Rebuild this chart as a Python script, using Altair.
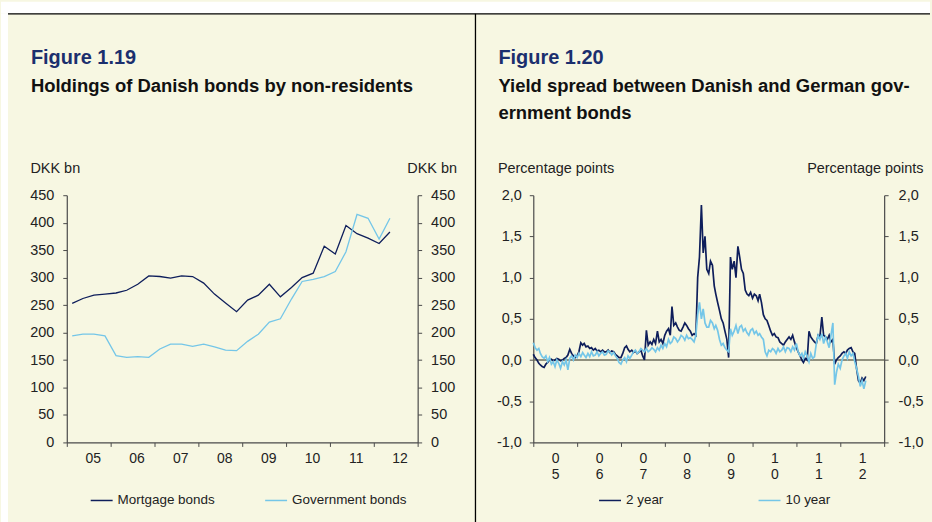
import altair as alt
import pandas as pd

FONT = "Liberation Sans"
BG = "#F7F7E2"
NAVY = "#0E1E5B"
LIGHT = "#74C6E8"
AXIS = "#4A4A4A"
TXT = "#222222"

# ---------------- Figure 1.19 data (quarterly, DKK bn) ----------------
quarters = ["2005Q1", "2005Q2", "2005Q3", "2005Q4", "2006Q1", "2006Q2", "2006Q3", "2006Q4",
            "2007Q1", "2007Q2", "2007Q3", "2007Q4", "2008Q1", "2008Q2", "2008Q3", "2008Q4",
            "2009Q1", "2009Q2", "2009Q3", "2009Q4", "2010Q1", "2010Q2", "2010Q3", "2010Q4",
            "2011Q1", "2011Q2", "2011Q3", "2011Q4", "2012Q1", "2012Q2"]
mortgage = [253, 262, 268, 270, 272, 277, 288, 303, 302, 299, 303, 302, 290, 270, 254, 238,
            259, 268, 288, 265, 282, 300, 308, 357, 343, 395, 380, 372, 362, 383]
government = [194, 197, 197, 194, 158, 155, 156, 155, 170, 179, 179, 175, 179, 174, 168, 167,
              184, 197, 219, 225, 261, 293, 297, 302, 311, 347, 415, 408, 370, 408]
left_series = ["Mortgage bonds", "Government bonds"]

# ---------------- Figure 1.20 data (semi-monthly readings, pct points) ----------------
spread_2y = [
    0.07, 0.03, 0.0, -0.04, -0.06, -0.08, -0.09, -0.05, -0.03, 0.0, 0.01, -0.01,
    0.0, 0.02, 0.01, -0.01, 0.0, 0.02, 0.03, 0.06, 0.13, 0.08, 0.05, 0.03,
    0.05, 0.1, 0.21, 0.18, 0.2, 0.16, 0.17, 0.14, 0.15, 0.12, 0.14, 0.11,
    0.12, 0.1, 0.12, 0.1, 0.1, 0.12, 0.09, 0.11, 0.1, 0.07, 0.05, 0.03,
    0.03, 0.08, 0.15, 0.17, 0.13, 0.1, 0.12, 0.09, 0.11, 0.08, 0.1, 0.12,
    0.05, 0.0, 0.36, 0.18, 0.22, 0.19, 0.25, 0.2, 0.35, 0.22, 0.25, 0.2,
    0.3, 0.35, 0.38, 0.3, 0.65, 0.42, 0.45, 0.4, 0.36, 0.35, 0.4, 0.45,
    0.42, 0.38, 0.35, 0.3, 0.32, 0.3, 1.0, 1.25, 1.88, 1.3, 1.5, 1.1,
    1.05, 1.2, 1.15, 0.9, 0.8, 0.7, 0.6, 0.5, 0.45, 0.35, 0.25, 0.03,
    1.25, 1.1, 1.2, 1.0, 1.38, 1.25, 1.1, 1.05, 0.85, 0.8, 0.78, 0.82,
    0.75, 0.8, 0.78, 0.72, 0.8, 0.7, 0.55, 0.5, 0.48, 0.42, 0.35, 0.3,
    0.32, 0.28, 0.27, 0.22, 0.2, 0.18, 0.22, 0.25, 0.28, 0.25, 0.3, 0.22,
    0.15, 0.1, 0.05, 0.0, -0.03, 0.02, 0.0, 0.35, 0.28, 0.25, 0.22, 0.2,
    0.3, 0.28, 0.52, 0.3, 0.28, 0.25, 0.3, 0.22, 0.25, -0.05, 0.0, 0.03,
    0.05, 0.08, 0.1, 0.08, 0.12, 0.14, 0.15, 0.1, 0.08, -0.1, -0.25, -0.28,
    -0.22, -0.25, -0.2]
spread_10y = [
    0.21, 0.15, 0.12, 0.14, 0.08, 0.04, 0.02, 0.05, -0.02, 0.03, -0.05, -0.02,
    -0.08, 0.0, -0.04, -0.1, -0.02, -0.06, 0.0, -0.12, 0.02, 0.05, 0.0, 0.06,
    0.03, 0.08, 0.04, 0.09, 0.06, 0.03, 0.08, 0.04, 0.1, 0.05, 0.06, 0.1,
    0.05, 0.08, 0.1, 0.06, 0.07, 0.11, 0.1, 0.06, 0.09, 0.05, 0.02, -0.03,
    -0.05, 0.0, 0.03, -0.02, 0.05, 0.02, 0.06, 0.1, 0.12, 0.08, 0.1, 0.14,
    0.12, 0.1, 0.14, 0.1, 0.12, 0.15, 0.13, 0.1, 0.15, 0.12, 0.18, 0.14,
    0.2, 0.16, 0.25, 0.2, 0.22, 0.28, 0.26, 0.22, 0.25, 0.3, 0.28, 0.24,
    0.3, 0.26, 0.27, 0.25, 0.22, 0.3, 0.55, 0.7, 0.5, 0.62, 0.45, 0.4,
    0.4, 0.48, 0.45, 0.38, 0.42, 0.36, 0.25, 0.18, 0.2, 0.15, 0.12, 0.1,
    0.38, 0.3, 0.35, 0.42, 0.32, 0.4, 0.42, 0.35, 0.38, 0.33, 0.3, 0.36,
    0.38, 0.32, 0.35, 0.3, 0.32, 0.28, 0.25, 0.1, 0.05, 0.12, 0.1, 0.14,
    0.12, 0.08, 0.14, 0.1, 0.12, 0.16, 0.1, 0.15, 0.14, 0.1, 0.16, 0.12,
    0.2, 0.1, 0.05, 0.08, 0.02, 0.1, 0.05, -0.02, 0.08, 0.02, 0.04, 0.2,
    0.3, 0.25, 0.32, 0.2, 0.28, 0.22, 0.15, 0.3, 0.45, -0.3, -0.15, -0.05,
    -0.1, 0.0, 0.05, 0.08, 0.02, 0.1, 0.05, 0.08, -0.02, -0.1, -0.2, -0.32,
    -0.25, -0.35, -0.25]
right_series = ["2 year", "10 year"]

# ---------------- build tables ----------------
def q_mid(q):
    y, n = int(q[:4]), int(q[-1])
    return f"{y}-{3 * n - 1:02d}-15"

left_df = pd.DataFrame({"date": [q_mid(q) for q in quarters],
                        "Mortgage bonds": mortgage,
                        "Government bonds": government})
left_long = left_df.melt("date", var_name="series", value_name="value")

spread_dates = [f"{y}-{m:02d}-{d:02d}" for y in range(2005, 2013)
                for m in range(1, 13) for d in (1, 16)][:len(spread_2y)]
right_df = pd.DataFrame({"date": spread_dates, "2 year": spread_2y, "10 year": spread_10y})
right_long = right_df.melt("date", var_name="series", value_name="value")

year_ticks = [alt.DateTime(year=y, month=1, date=1) for y in range(2005, 2014)]
x_domain = [alt.DateTime(year=2005, month=1, date=1), alt.DateTime(year=2013, month=1, date=1)]

W, H = 352, 248


def x_enc(label_expr, offset):
    return alt.X("date:T", title=None, scale=alt.Scale(domain=x_domain),
                 axis=alt.Axis(values=year_ticks, labelExpr=label_expr, labelOffset=offset,
                               labelFlush=False, labelOverlap=False, tickSize=4,
                               labelPadding=5, grid=False, domainColor=AXIS, tickColor=AXIS,
                               domainWidth=1.2, labelFontSize=14, labelColor=TXT,
                               labelLineHeight=16))


def y_axis(orient, title, values, label_expr, title_x, align, pad):
    return alt.Axis(orient=orient, values=values, labelExpr=label_expr, title=title,
                    titleAngle=0, titleAlign=align, titleBaseline="alphabetic",
                    titleX=title_x, titleY=-23, titleFontWeight="normal", titleFontSize=14.5,
                    titleColor=TXT, tickSize=4, labelPadding=pad, grid=False,
                    domainColor=AXIS, tickColor=AXIS, domainWidth=1.2,
                    labelFontSize=14.5, labelColor=TXT)


def legend(x, col_pad):
    return alt.Legend(title=None, orient="none", legendX=x, legendY=294,
                      direction="horizontal", symbolType="stroke", symbolSize=484,
                      symbolStrokeWidth=1.5, labelFontSize=13.5, labelFont=FONT,
                      labelColor=TXT, labelOffset=4, columnPadding=col_pad, padding=0)


def text_layer(txt, x, y, size, color, weight="bold"):
    return alt.Chart(pd.DataFrame({"t": [txt]})).mark_text(
        align="left", baseline="alphabetic", font=FONT, fontSize=size,
        fontWeight=weight, color=color).encode(x=alt.value(x), y=alt.value(y), text="t:N")


# ---------------- left chart ----------------
lx = x_enc("year(datum.value) >= 2013 ? '' : timeFormat(datum.value, '%y')", 26)
l_scale = alt.Scale(domain=[0, 450], nice=False)
l_vals = list(range(0, 451, 50))
l_color = alt.Color("series:N", scale=alt.Scale(domain=left_series, range=[NAVY, LIGHT]),
                    legend=legend(23, 47))

l_lines = alt.layer(*[
    alt.Chart(left_long).transform_filter(alt.datum.series == s).mark_line(strokeWidth=1.3).encode(
        x=lx,
        y=alt.Y("value:Q", scale=l_scale,
                axis=y_axis("left", "DKK bn", l_vals, "datum.label", -37, "left", 9)),
        color=l_color)
    for s in left_series])
l_right_axis = alt.Chart(left_long).mark_line(opacity=0).encode(
    x=lx,
    y=alt.Y("value:Q", scale=l_scale,
            axis=y_axis("right", "DKK bn", l_vals, "datum.label", 39, "right", 9)))

deco_data = pd.DataFrame({"k": [0]})
white_top = alt.Chart(deco_data).mark_rect(color="white").encode(
    x=alt.value(-66), x2=alt.value(866), y=alt.value(-194), y2=alt.value(-182))
white_left = alt.Chart(deco_data).mark_rect(color="white").encode(
    x=alt.value(-66), x2=alt.value(-59), y=alt.value(-182), y2=alt.value(328))
top_line = alt.Chart(deco_data).mark_rule(color="black", strokeWidth=1.3).encode(
    x=alt.value(-59), x2=alt.value(866), y=alt.value(-182))
mid_line = alt.Chart(deco_data).mark_rule(color="black", strokeWidth=1.3).encode(
    x=alt.value(410), y=alt.value(-182), y2=alt.value(328))

left_chart = alt.layer(
    white_top, white_left, top_line, mid_line,
    l_lines, l_right_axis,
    text_layer("Figure 1.19", -36, -132, 20, "#1B2F6E"),
    text_layer("Holdings of Danish bonds by non-residents", -36, -104, 18.5, "#111111"),
).resolve_scale(y="independent").properties(width=W, height=H)

# ---------------- right chart ----------------
rx = x_enc("year(datum.value) >= 2013 ? '' : [substring(timeFormat(datum.value, '%y'), 0, 1), "
           "substring(timeFormat(datum.value, '%y'), 1, 2)]", 22)
r_scale = alt.Scale(domain=[-1, 2], nice=False)
r_vals = [-1, -0.5, 0, 0.5, 1, 1.5, 2]
r_lab = "(datum.value < 0 ? '-' : '') + replace(format(abs(datum.value), '.1f'), '.', ',')"
r_color = alt.Color("series:N", scale=alt.Scale(domain=right_series, range=[NAVY, LIGHT]),
                    legend=legend(65, 92))

zero = alt.Chart(pd.DataFrame({"v": [0]})).mark_rule(color="#6E6E5C", strokeWidth=1.5).encode(
    y=alt.Y("v:Q", scale=r_scale,
            axis=y_axis("left", "Percentage points", r_vals, r_lab, -36, "left", 8)))
r_lines = [
    alt.Chart(right_long).transform_filter(alt.datum.series == s).mark_line(strokeWidth=1.7).encode(
        x=rx,
        y=alt.Y("value:Q", scale=r_scale,
                axis=y_axis("left", "Percentage points", r_vals, r_lab, -36, "left", 8)),
        color=r_color)
    for s in right_series]
r_inner = alt.layer(zero, *r_lines)
r_right_axis = alt.Chart(right_long).mark_line(opacity=0).encode(
    x=rx,
    y=alt.Y("value:Q", scale=r_scale,
            axis=y_axis("right", "Percentage points", r_vals, r_lab, 39, "right", 10)))

right_chart = alt.layer(
    r_inner, r_right_axis,
    text_layer("Figure 1.20", -35, -132, 20, "#1B2F6E"),
    text_layer("Yield spread between Danish and German gov-", -35, -104, 18.5, "#111111"),
    text_layer("ernment bonds", -35, -76, 18.5, "#111111"),
).resolve_scale(y="independent").properties(width=W, height=H)

chart = alt.hconcat(left_chart, right_chart, spacing=116, bounds="flush").resolve_scale(
    color="independent"
).resolve_legend(color="independent").properties(
    padding=0,
).configure(background=BG, font=FONT).configure_view(stroke="transparent")

chart.save("out.html", embed_options={"renderer": "svg", "actions": False})
